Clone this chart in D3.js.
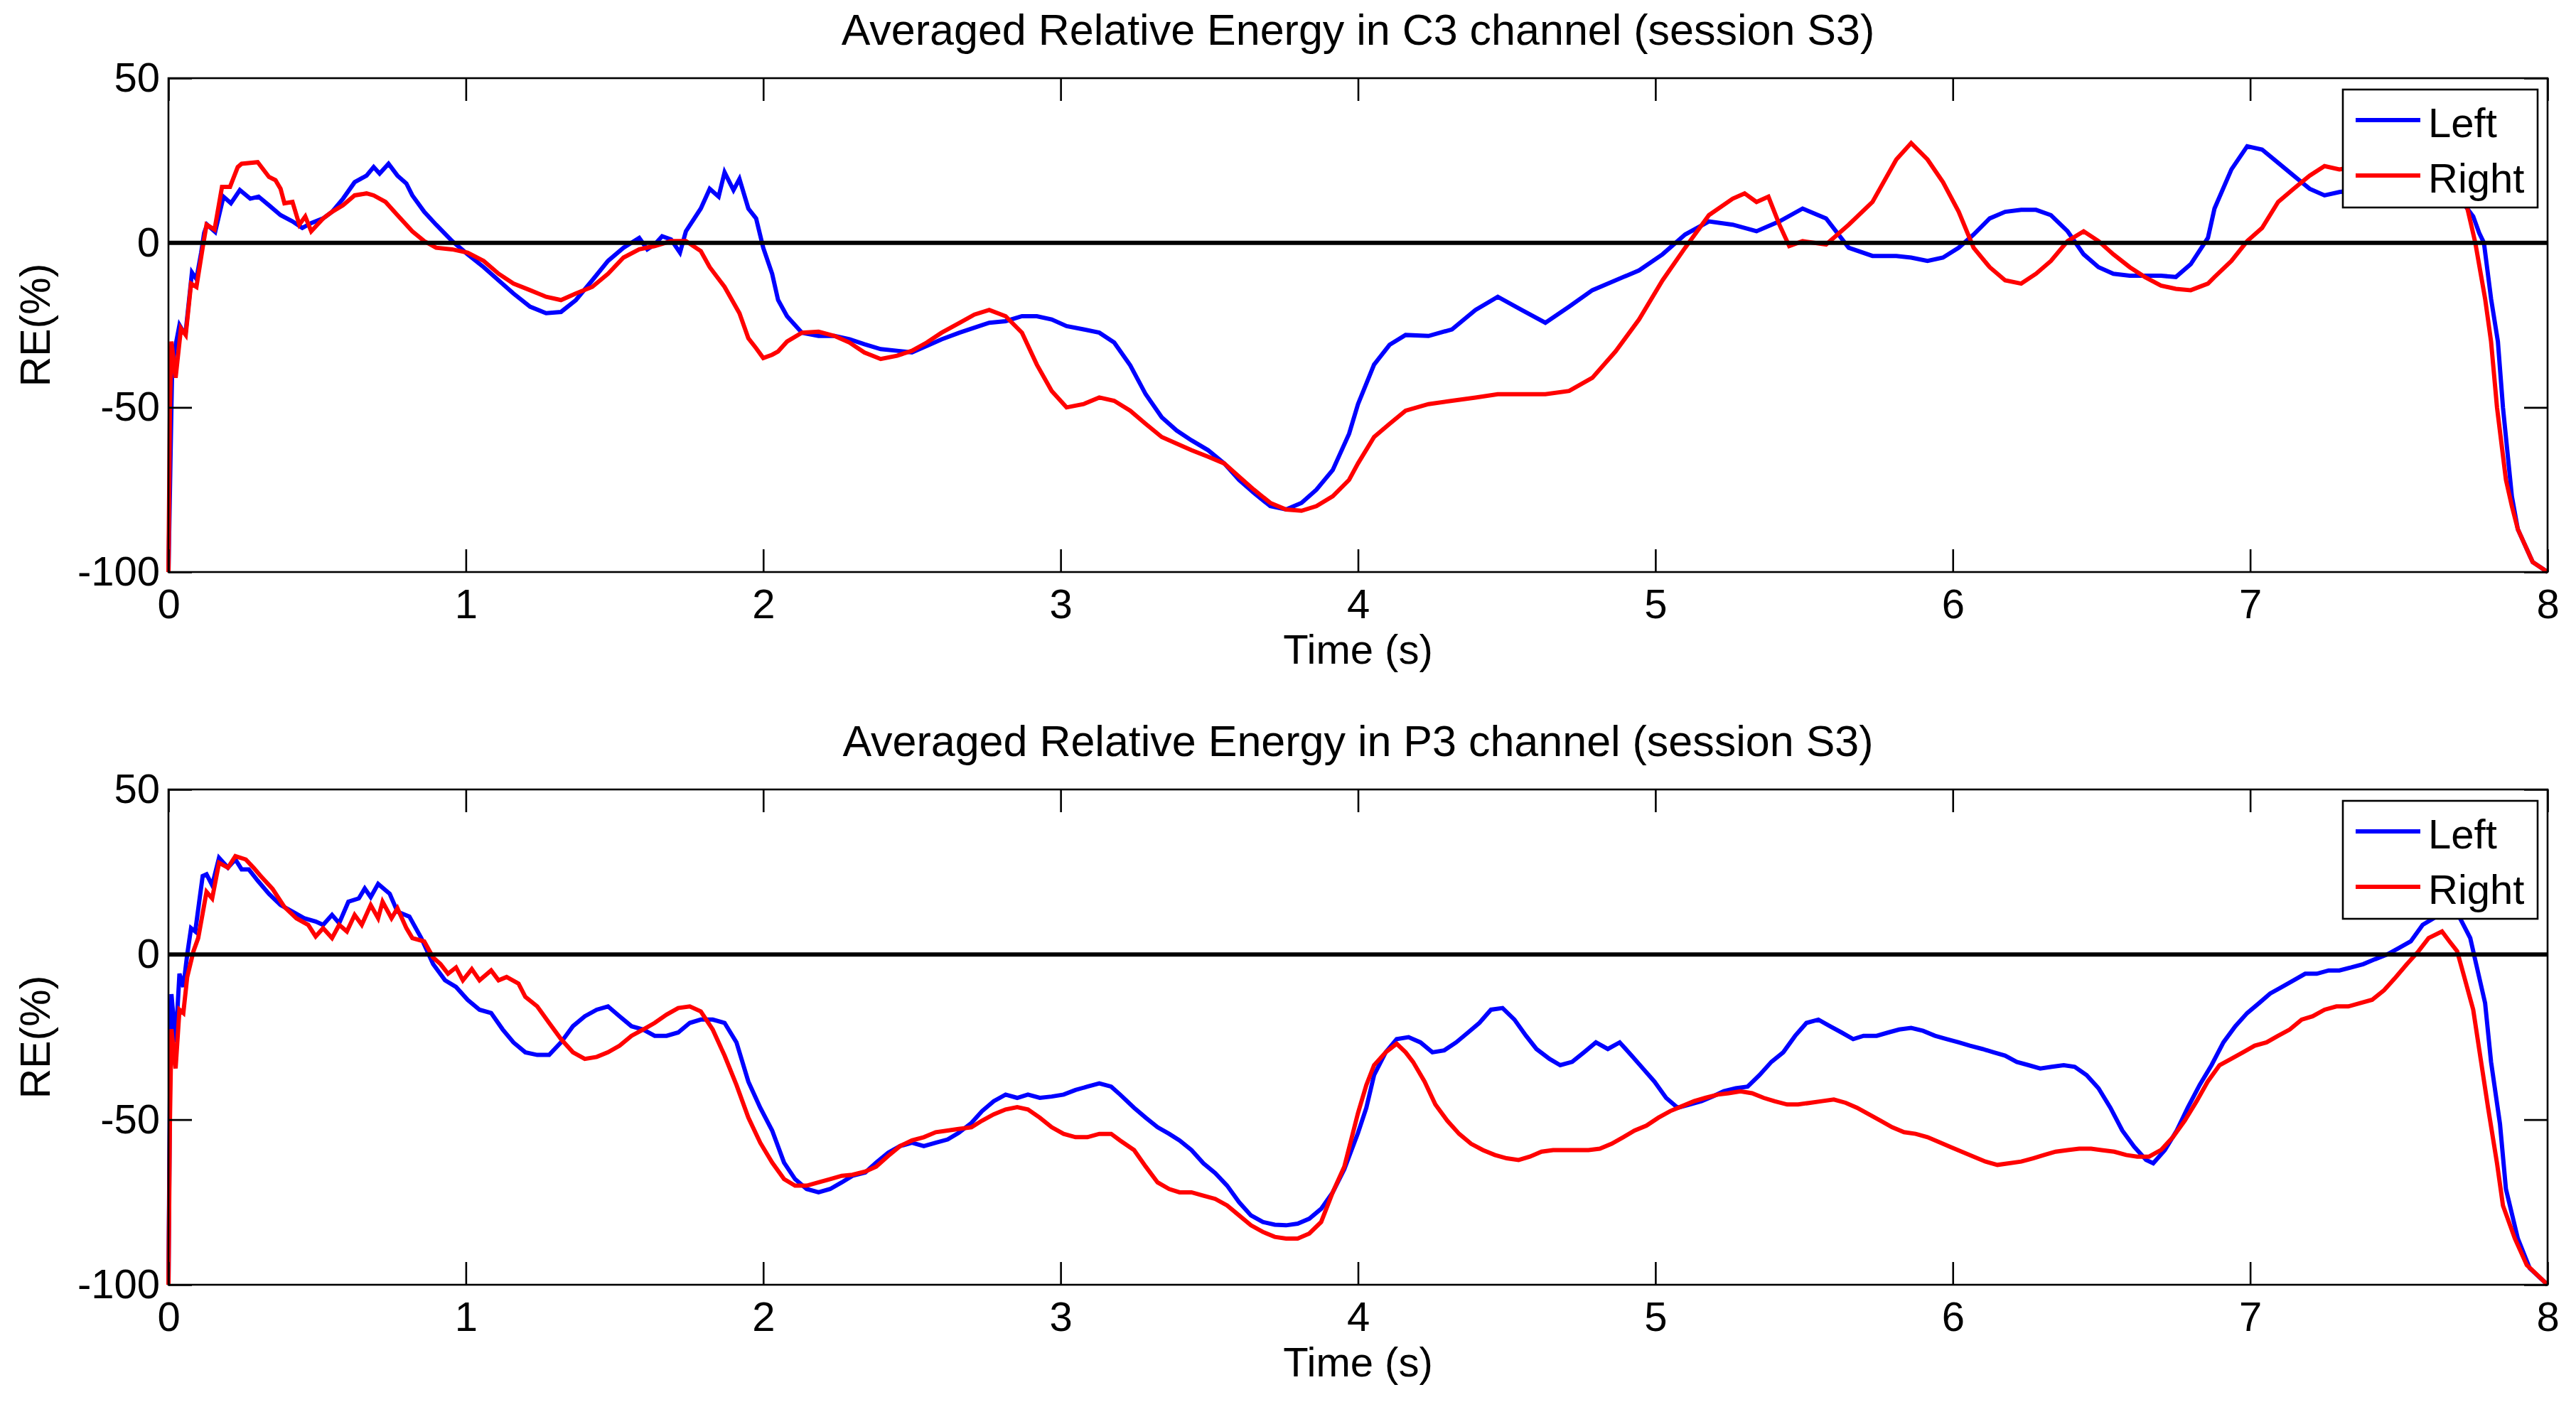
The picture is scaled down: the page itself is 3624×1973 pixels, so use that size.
<!DOCTYPE html>
<html lang="en">
<head>
  <meta charset="UTF-8">
  <title>Averaged Relative Energy</title>
  <script src="https://d3js.org/d3.v7.min.js"></script>
  <style>
    body { margin: 0; padding: 0; background: #ffffff; }
    svg { display: block; font-family: "Liberation Sans", Arial, sans-serif; }
  </style>
</head>
<body>
  <svg id="chart" width="3624" height="1973"></svg>

  <script>
    // ticks and labels
    const xTicks = [0, 1, 2, 3, 4, 5, 6, 7, 8];
    const yTicks = [-100, -50, 0, 50];
    const seriesNames = ["Left", "Right"];
    const seriesColors = ["#0000ff", "#ff0000"];
    const titles = [
      "Averaged Relative Energy in C3 channel (session S3)",
      "Averaged Relative Energy in P3 channel (session S3)"
    ];

    // [time (s), RE (%)]
    const c3Left = [[0,-100],[0.006,-70],[0.012,-40],[0.02,-33],[0.037,-25],[0.05,-27],[0.058,-27],[0.079,-9],[0.094,-11],[0.11,-3],[0.12,3],[0.13,5.5],[0.157,3.3],[0.185,14],[0.21,12],[0.24,16],[0.275,13.4],[0.303,14],[0.338,11.4],[0.377,8.4],[0.417,6.5],[0.45,4.5],[0.48,6],[0.52,7.4],[0.55,9.4],[0.587,13.4],[0.626,18.4],[0.666,20.4],[0.69,23],[0.71,21],[0.74,24],[0.77,20.4],[0.8,18],[0.82,14.4],[0.86,9.4],[0.9,5.5],[0.954,0.5],[1.006,-3.5],[1.06,-7.4],[1.11,-11.4],[1.16,-15.4],[1.216,-19.4],[1.27,-21.4],[1.32,-21],[1.37,-17.4],[1.425,-11.4],[1.478,-5.5],[1.53,-1.5],[1.583,1.5],[1.61,-2],[1.635,-0.5],[1.66,2],[1.69,1],[1.72,-3],[1.74,3.5],[1.79,10.4],[1.82,16.4],[1.85,14],[1.87,21.4],[1.9,16],[1.92,19.4],[1.95,10.4],[1.976,7.4],[2.0,-1.5],[2.03,-9.4],[2.05,-17.4],[2.08,-22.3],[2.13,-27.3],[2.186,-28.3],[2.24,-28.3],[2.29,-29.3],[2.34,-30.8],[2.395,-32.3],[2.45,-32.8],[2.5,-33.3],[2.55,-31.3],[2.6,-29.3],[2.66,-27.3],[2.71,-25.8],[2.76,-24.3],[2.815,-23.8],[2.87,-22.3],[2.92,-22.3],[2.97,-23.3],[3.02,-25.3],[3.077,-26.3],[3.13,-27.3],[3.18,-30.3],[3.234,-37.2],[3.286,-46],[3.34,-53],[3.39,-57],[3.44,-60],[3.496,-63],[3.55,-67],[3.6,-72],[3.65,-76],[3.705,-80],[3.758,-81],[3.81,-79],[3.86,-75],[3.915,-69],[3.97,-58],[4.0,-49],[4.054,-37],[4.106,-31],[4.16,-28],[4.237,-28.3],[4.316,-26.3],[4.395,-20.4],[4.47,-16.4],[4.55,-20.4],[4.63,-24.3],[4.71,-19.4],[4.788,-14.4],[4.866,-11.4],[4.945,-8.4],[5.024,-3.5],[5.1,2.5],[5.18,6.5],[5.26,5.5],[5.34,3.5],[5.417,6.5],[5.495,10.4],[5.574,7.4],[5.65,-1.5],[5.73,-4],[5.81,-4],[5.86,-4.5],[5.915,-5.5],[5.967,-4.5],[6.02,-1.5],[6.07,2.5],[6.124,7.4],[6.176,9.4],[6.23,10],[6.28,10],[6.33,8.4],[6.386,3.5],[6.44,-3.5],[6.49,-7.4],[6.54,-9.4],[6.595,-10],[6.646,-10],[6.7,-10],[6.75,-10.4],[6.8,-6.5],[6.858,1.5],[6.88,10.4],[6.937,22.3],[6.99,29.3],[7.04,28.3],[7.094,24.3],[7.146,20.4],[7.2,16.4],[7.25,14.4],[7.3,15.4],[7.35,16],[7.4,17],[7.45,17],[7.5,18],[7.55,19],[7.6,19],[7.65,17],[7.7,14],[7.75,8],[7.77,3],[7.786,0],[7.81,-17],[7.833,-30],[7.85,-50],[7.88,-77],[7.9,-87],[7.95,-97],[8.0,-100]];
    const c3Right = [[0,-100],[0.005,-50],[0.01,-30],[0.024,-41],[0.042,-26],[0.058,-28],[0.076,-12.4],[0.094,-13.4],[0.115,-1.5],[0.128,5.5],[0.155,4],[0.18,17],[0.207,17],[0.233,23],[0.246,24],[0.3,24.5],[0.338,20],[0.36,19],[0.377,16.4],[0.39,12],[0.417,12.4],[0.44,5.5],[0.46,8],[0.48,3.5],[0.52,7.4],[0.55,9.4],[0.587,11.4],[0.626,14.4],[0.666,15],[0.69,14.4],[0.73,12.4],[0.77,8.4],[0.82,3.5],[0.86,0.5],[0.9,-1.5],[0.954,-2],[1.006,-3],[1.06,-5.5],[1.11,-9.4],[1.16,-12.4],[1.216,-14.4],[1.27,-16.4],[1.32,-17.4],[1.37,-15.4],[1.425,-13.4],[1.478,-9.4],[1.53,-4.5],[1.583,-2],[1.635,-1],[1.69,0.5],[1.74,0.5],[1.79,-2.5],[1.82,-7.4],[1.87,-13.4],[1.92,-21.4],[1.95,-29],[1.976,-32],[2.0,-35],[2.03,-34],[2.05,-33],[2.08,-30],[2.13,-27.3],[2.186,-27],[2.24,-28.3],[2.29,-30.3],[2.34,-33.3],[2.395,-35.3],[2.45,-34.3],[2.5,-32.8],[2.55,-30.3],[2.6,-27.3],[2.66,-24.3],[2.71,-21.8],[2.76,-20.4],[2.815,-22.3],[2.87,-27.3],[2.92,-37],[2.97,-45],[3.02,-50],[3.077,-49],[3.13,-47],[3.18,-48],[3.234,-51],[3.286,-55],[3.34,-59],[3.39,-61],[3.44,-63],[3.496,-65],[3.55,-67],[3.6,-71],[3.65,-75],[3.705,-79],[3.758,-81],[3.81,-81.4],[3.86,-80],[3.915,-77],[3.97,-72],[4.0,-67],[4.054,-59],[4.106,-55],[4.16,-51],[4.237,-49],[4.316,-48],[4.395,-47],[4.47,-46],[4.55,-46],[4.63,-46],[4.71,-45],[4.788,-41],[4.866,-33],[4.945,-23.3],[5.024,-11.4],[5.1,-1.5],[5.18,8.4],[5.26,13.4],[5.3,15],[5.34,12.4],[5.38,14],[5.417,5.5],[5.45,-1],[5.495,0.5],[5.574,-0.5],[5.65,5.5],[5.73,12.4],[5.81,25.3],[5.86,30.3],[5.915,25.3],[5.967,18.4],[6.02,9.4],[6.07,-1.5],[6.124,-7.4],[6.176,-11.4],[6.23,-12.4],[6.28,-9.4],[6.33,-5.5],[6.386,0.5],[6.44,3.5],[6.49,0.5],[6.54,-3.5],[6.595,-7.4],[6.646,-10.4],[6.7,-13],[6.75,-14],[6.8,-14.4],[6.858,-12.4],[6.88,-10.4],[6.937,-5.5],[6.99,0.5],[7.04,4.5],[7.094,12.4],[7.146,16.4],[7.2,20.4],[7.25,23.3],[7.3,22.3],[7.35,23],[7.4,22],[7.45,23],[7.5,23],[7.55,22],[7.6,21],[7.65,18],[7.7,14],[7.73,10.6],[7.757,0],[7.79,-17],[7.81,-30],[7.83,-50],[7.86,-72],[7.88,-80],[7.9,-87],[7.95,-97],[8.0,-100]];
    const p3Left = [[0,-100],[0.005,-40],[0.01,-12],[0.024,-26.6],[0.037,-5.8],[0.05,-9.8],[0.063,0],[0.076,8],[0.09,7],[0.115,23.8],[0.128,24.3],[0.147,21],[0.17,29.3],[0.2,26.3],[0.225,28.8],[0.246,25.8],[0.27,25.8],[0.3,22.4],[0.338,18.4],[0.377,15],[0.417,13],[0.456,11],[0.495,10],[0.52,9],[0.55,12],[0.574,9.5],[0.605,16],[0.64,17],[0.66,20],[0.68,17.4],[0.705,21.4],[0.744,18.4],[0.77,13],[0.81,11.5],[0.85,5],[0.89,-2.9],[0.93,-7.8],[0.967,-9.8],[1.006,-13.7],[1.046,-16.7],[1.085,-17.7],[1.124,-22.7],[1.16,-26.6],[1.2,-29.6],[1.24,-30.4],[1.28,-30.4],[1.32,-26.6],[1.36,-21.7],[1.4,-18.7],[1.44,-16.7],[1.478,-15.7],[1.517,-18.7],[1.557,-21.7],[1.596,-22.7],[1.635,-24.6],[1.675,-24.6],[1.714,-23.6],[1.753,-20.7],[1.79,-19.7],[1.83,-19.7],[1.87,-20.7],[1.91,-26.6],[1.95,-38.5],[1.99,-46.4],[2.03,-53.3],[2.07,-63],[2.107,-68],[2.146,-71],[2.186,-72],[2.225,-71],[2.264,-69],[2.3,-67],[2.343,-66],[2.38,-63],[2.42,-60],[2.46,-58],[2.5,-57],[2.54,-58],[2.58,-57],[2.62,-56],[2.657,-54],[2.7,-51],[2.736,-47.4],[2.775,-44.4],[2.815,-42.4],[2.854,-43.4],[2.89,-42.4],[2.93,-43.4],[2.97,-43],[3.01,-42.4],[3.05,-41],[3.09,-40],[3.13,-39],[3.17,-40],[3.2,-42.4],[3.247,-46.4],[3.286,-49.4],[3.326,-52.3],[3.365,-54.3],[3.4,-56.3],[3.44,-59.2],[3.48,-63.2],[3.52,-66.2],[3.56,-70],[3.6,-75],[3.64,-79],[3.68,-81],[3.72,-81.8],[3.758,-82],[3.797,-81.5],[3.836,-80],[3.876,-77],[3.915,-72],[3.954,-65],[4.0,-54],[4.028,-46.4],[4.054,-36.5],[4.093,-29.6],[4.13,-25.6],[4.17,-25],[4.21,-26.6],[4.25,-29.6],[4.29,-29],[4.33,-26.6],[4.37,-23.6],[4.408,-20.7],[4.447,-16.7],[4.486,-16.2],[4.526,-19.7],[4.565,-24.6],[4.6,-28.6],[4.644,-31.6],[4.68,-33.5],[4.72,-32.5],[4.76,-29.6],[4.8,-26.6],[4.84,-28.6],[4.88,-26.6],[4.92,-30.6],[4.958,-34.5],[4.997,-38.5],[5.036,-43.4],[5.075,-46.4],[5.115,-45.4],[5.155,-44.4],[5.194,-42.9],[5.23,-41.4],[5.27,-40.5],[5.31,-40],[5.35,-36.5],[5.39,-32.5],[5.43,-29.6],[5.47,-24.6],[5.508,-20.7],[5.548,-19.7],[5.587,-21.7],[5.626,-23.6],[5.665,-25.6],[5.7,-24.6],[5.744,-24.6],[5.783,-23.6],[5.82,-22.7],[5.86,-22.2],[5.9,-23.1],[5.94,-24.6],[5.98,-25.6],[6.02,-26.6],[6.058,-27.6],[6.1,-28.6],[6.137,-29.6],[6.176,-30.6],[6.215,-32.5],[6.255,-33.5],[6.294,-34.5],[6.333,-34],[6.373,-33.5],[6.41,-34],[6.45,-36.5],[6.49,-40.5],[6.53,-46.4],[6.57,-53.3],[6.61,-58.2],[6.65,-62.2],[6.674,-63.2],[6.713,-59.2],[6.753,-53.3],[6.79,-46.4],[6.83,-39.5],[6.87,-33.5],[6.91,-26.6],[6.95,-21.7],[6.99,-17.7],[7.03,-14.7],[7.067,-11.8],[7.107,-9.8],[7.146,-7.8],[7.185,-5.8],[7.224,-5.8],[7.264,-4.8],[7.3,-4.8],[7.34,-3.9],[7.38,-2.9],[7.42,-1.4],[7.46,0],[7.5,2],[7.54,4],[7.58,9],[7.617,11],[7.65,13],[7.7,12],[7.74,5],[7.76,-2.9],[7.79,-14.7],[7.81,-32.5],[7.84,-51.3],[7.86,-71],[7.9,-86],[7.94,-95],[8.0,-100]];
    const p3Right = [[0,-100],[0.005,-50],[0.01,-22.6],[0.024,-34.5],[0.037,-16.7],[0.05,-17.7],[0.063,-6.8],[0.084,1],[0.1,5],[0.128,19],[0.147,17],[0.17,27.8],[0.2,26.3],[0.225,29.8],[0.26,28.8],[0.286,26.3],[0.31,23.8],[0.35,19.9],[0.39,14.4],[0.43,11],[0.47,9],[0.495,5.5],[0.52,8],[0.55,5],[0.574,9],[0.6,7],[0.626,12],[0.65,9],[0.68,15],[0.705,11],[0.72,16],[0.75,11],[0.77,14],[0.8,8],[0.82,5],[0.86,4],[0.89,-0.9],[0.915,-2.9],[0.94,-5.8],[0.967,-3.9],[0.99,-7.8],[1.02,-4.4],[1.046,-7.8],[1.085,-4.8],[1.11,-7.8],[1.137,-6.8],[1.177,-8.8],[1.2,-12.8],[1.24,-15.7],[1.28,-20.7],[1.32,-25.6],[1.36,-29.6],[1.4,-31.6],[1.44,-31],[1.478,-29.6],[1.517,-27.6],[1.557,-24.6],[1.596,-22.7],[1.635,-20.7],[1.675,-18.2],[1.714,-16.2],[1.753,-15.7],[1.79,-17.2],[1.83,-22.7],[1.87,-30.6],[1.91,-39.5],[1.95,-49.4],[1.99,-57],[2.03,-63],[2.07,-68],[2.107,-70],[2.146,-70],[2.186,-69],[2.225,-68],[2.264,-67],[2.3,-66.7],[2.343,-65.7],[2.38,-64.2],[2.42,-61],[2.46,-58],[2.5,-56.3],[2.54,-55.3],[2.58,-53.8],[2.62,-53.3],[2.657,-52.8],[2.7,-52.3],[2.736,-50.3],[2.775,-48.4],[2.815,-46.9],[2.854,-46.2],[2.89,-46.9],[2.93,-49.4],[2.97,-52.3],[3.01,-54.3],[3.05,-55.3],[3.09,-55.3],[3.13,-54.3],[3.17,-54.3],[3.2,-56.3],[3.247,-59.2],[3.286,-64.2],[3.326,-69],[3.365,-71],[3.4,-72],[3.44,-72],[3.48,-73],[3.52,-74],[3.56,-76],[3.6,-79],[3.64,-82],[3.68,-84],[3.72,-85.5],[3.758,-86],[3.797,-86],[3.836,-84.5],[3.876,-81],[3.915,-72],[3.954,-64.2],[4.0,-48],[4.028,-39.5],[4.054,-33.5],[4.093,-29.6],[4.13,-27],[4.16,-29.6],[4.185,-32.5],[4.224,-38.5],[4.26,-45.4],[4.3,-50.3],[4.34,-54.3],[4.38,-57.3],[4.42,-59.2],[4.46,-60.7],[4.5,-61.7],[4.54,-62.2],[4.578,-61.2],[4.617,-59.7],[4.656,-59.2],[4.696,-59.2],[4.735,-59.2],[4.775,-59.2],[4.813,-58.8],[4.853,-57.3],[4.892,-55.3],[4.93,-53.3],[4.97,-51.8],[5.01,-49.4],[5.05,-47.4],[5.09,-45.9],[5.13,-44.4],[5.168,-43.4],[5.21,-42.4],[5.246,-42],[5.286,-41.4],[5.325,-42],[5.364,-43.4],[5.4,-44.4],[5.443,-45.4],[5.48,-45.4],[5.52,-44.9],[5.56,-44.4],[5.6,-43.9],[5.64,-44.9],[5.678,-46.4],[5.718,-48.4],[5.757,-50.3],[5.796,-52.3],[5.836,-53.8],[5.875,-54.3],[5.915,-55.3],[5.954,-56.8],[5.993,-58.3],[6.03,-59.7],[6.07,-61.2],[6.11,-62.7],[6.15,-63.7],[6.19,-63.2],[6.23,-62.7],[6.27,-61.7],[6.307,-60.7],[6.346,-59.7],[6.386,-59.2],[6.425,-58.8],[6.465,-58.8],[6.5,-59.2],[6.543,-59.7],[6.583,-60.7],[6.62,-61.2],[6.66,-61.2],[6.7,-59.2],[6.74,-55.3],[6.78,-50.3],[6.82,-44.4],[6.857,-38.5],[6.897,-33.5],[6.936,-31.6],[6.976,-29.6],[7.015,-27.6],[7.055,-26.6],[7.094,-24.6],[7.133,-22.7],[7.173,-19.7],[7.21,-18.7],[7.25,-16.7],[7.29,-15.7],[7.33,-15.7],[7.37,-14.7],[7.41,-13.7],[7.45,-10.8],[7.49,-6.8],[7.527,-2.9],[7.566,1],[7.6,5],[7.645,7],[7.67,4],[7.696,1],[7.72,-6.8],[7.75,-16.7],[7.775,-31.6],[7.8,-46.4],[7.83,-63.2],[7.85,-76],[7.89,-86],[7.93,-94],[8.0,-100]];

    const panels = [
      { title: titles[0], series: [c3Left, c3Right], top: 110, bottom: 805 },
      { title: titles[1], series: [p3Left, p3Right], top: 1111, bottom: 1808 }
    ];

    const svg = d3.select("#chart");
    const left = 237, right = 3584;
    const axisWidth = 2.6;
    const plain = d => String(d); // hyphen minus like the original, not U+2212

    panels.forEach(p => {
      const x = d3.scaleLinear().domain([0, 8]).range([left, right]);
      const y = d3.scaleLinear().domain([-100, 50]).range([p.bottom, p.top]);
      const g = svg.append("g");

      // curves, blue first then red on top
      const line = d3.line().x(d => x(d[0])).y(d => y(d[1]));
      p.series.forEach((s, i) => {
        g.append("path")
          .datum(s)
          .attr("d", line)
          .attr("fill", "none")
          .attr("stroke", seriesColors[i])
          .attr("stroke-width", 6);
      });

      // zero line
      g.append("line")
        .attr("x1", x(0)).attr("x2", x(8))
        .attr("y1", y(0)).attr("y2", y(0))
        .attr("stroke", "#000").attr("stroke-width", 6);

      // axes, ticks pointing inward
      const styleAxis = sel => {
        sel.select(".domain").remove();
        sel.selectAll(".tick line").attr("stroke", "#000").attr("stroke-width", axisWidth);
        sel.selectAll(".tick text").attr("fill", "#000").style("font-size", "58px")
          .style("font-family", "'Liberation Sans', Arial, sans-serif");
      };
      g.append("g").attr("transform", `translate(0,${p.bottom})`)
        .call(d3.axisBottom(x).tickValues(xTicks).tickFormat(plain)
          .tickSizeInner(-32).tickSizeOuter(0).tickPadding(24))
        .call(styleAxis);
      g.append("g").attr("transform", `translate(0,${p.top})`)
        .call(d3.axisTop(x).tickValues(xTicks).tickFormat("")
          .tickSizeInner(-32).tickSizeOuter(0))
        .call(styleAxis);
      g.append("g").attr("transform", `translate(${left},0)`)
        .call(d3.axisLeft(y).tickValues(yTicks).tickFormat(plain)
          .tickSizeInner(-33).tickSizeOuter(0).tickPadding(12))
        .call(styleAxis);
      g.append("g").attr("transform", `translate(${right},0)`)
        .call(d3.axisRight(y).tickValues(yTicks).tickFormat("")
          .tickSizeInner(-33).tickSizeOuter(0))
        .call(styleAxis);

      // box
      g.append("rect")
        .attr("x", left).attr("y", p.top)
        .attr("width", right - left).attr("height", p.bottom - p.top)
        .attr("fill", "none").attr("stroke", "#000").attr("stroke-width", axisWidth);

      // title and labels
      g.append("text")
        .attr("x", (left + right) / 2).attr("y", p.top - 47)
        .attr("text-anchor", "middle").style("font-size", "61px")
        .text(p.title);
      g.append("text")
        .attr("x", (left + right) / 2).attr("y", p.bottom + 129)
        .attr("text-anchor", "middle").style("font-size", "58px")
        .text("Time (s)");
      g.append("text")
        .attr("transform", `translate(70,${(p.top + p.bottom) / 2}) rotate(-90)`)
        .attr("text-anchor", "middle").style("font-size", "59px")
        .text("RE(%)");

      // legend
      const lg = g.append("g").attr("transform", `translate(3296,${p.top + 16})`);
      lg.append("rect")
        .attr("width", 274).attr("height", 166)
        .attr("fill", "#fff").attr("stroke", "#000").attr("stroke-width", axisWidth);
      seriesNames.forEach((name, i) => {
        const ly = 43 + i * 78;
        lg.append("line")
          .attr("x1", 18).attr("x2", 109).attr("y1", ly).attr("y2", ly)
          .attr("stroke", seriesColors[i]).attr("stroke-width", 6);
        lg.append("text")
          .attr("x", 120).attr("y", ly + 24)
          .style("font-size", "58px")
          .text(name);
      });
    });
  </script>
</body>
</html>
